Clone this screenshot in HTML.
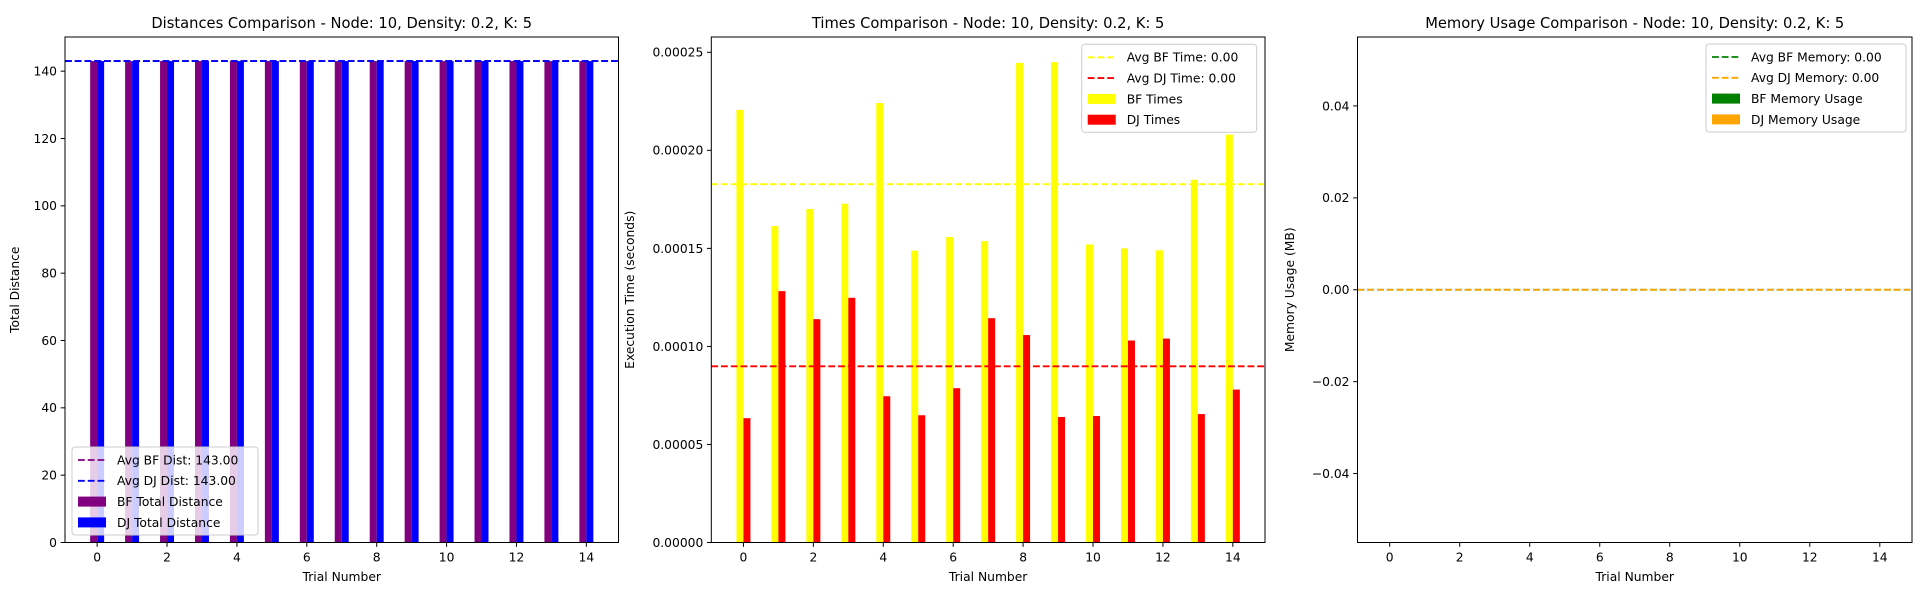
<!DOCTYPE html>
<html><head><meta charset="utf-8"><style>
html,body{margin:0;padding:0;background:#fff;}
svg{display:block;font-family:"DejaVu Sans","Liberation Sans",sans-serif;}
</style></head><body>
<svg id="chart" width="1923" height="600" viewBox="0 0 1923 600" xmlns="http://www.w3.org/2000/svg"></svg>
<script>
const trials = [0,1,2,3,4,5,6,7,8,9,10,11,12,13,14];
const xTicks = [0,2,4,6,8,10,12,14];
const bfDist = [143,143,143,143,143,143,143,143,143,143,143,143,143,143,143];
const djDist = [143,143,143,143,143,143,143,143,143,143,143,143,143,143,143];
const distTicks = [0,20,40,60,80,100,120,140];
const bfTimes = [0.0002206,0.0001614,0.0001701,0.0001728,0.0002241,0.0001488,0.0001558,0.0001537,0.0002446,0.000245,0.000152,0.000150,0.000149,0.000185,0.000208];
const djTimes = [0.0000634,0.0001282,0.0001139,0.0001248,0.0000746,0.0000649,0.0000787,0.0001144,0.0001058,0.000064,0.0000645,0.000103,0.000104,0.0000655,0.000078];
const timeTicks = [0,0.00005,0.0001,0.00015,0.0002,0.00025];
const timeTickLabels = ["0.00000","0.00005","0.00010","0.00015","0.00020","0.00025"];
const bfMem = [0,0,0,0,0,0,0,0,0,0,0,0,0,0,0];
const djMem = [0,0,0,0,0,0,0,0,0,0,0,0,0,0,0];
const memTicks = [-0.04,-0.02,0,0.02,0.04];
const memTickLabels = ["\u22120.04","\u22120.02","0.00","0.02","0.04"];

const NS = "http://www.w3.org/2000/svg";
const svg = document.getElementById('chart');
function el(tag, attrs, parent){
  const e = document.createElementNS(NS, tag);
  for (const k in attrs) e.setAttribute(k, attrs[k]);
  (parent||svg).appendChild(e);
  return e;
}
const TOP = 37, BOT = 542.5;
const mean = a => a.reduce((s,v)=>s+v,0)/a.length;

function panel(o){
  const g = el('g', {});
  
  
  const xmin=-0.92, xmax=14.92;
  const xs = v => o.left + (v - xmin)/(xmax - xmin)*(o.right - o.left);
  const ys = v => BOT - (v - o.ymin)/(o.ymax - o.ymin)*(BOT - TOP);
  const bw = xs(0.2) - xs(0);
  // bars
  trials.forEach((t,i)=>{
    [[o.s1,o.c1,-0.2,'bar-'+o.k1+'-'+t],[o.s2,o.c2,0,'bar-'+o.k2+'-'+t]].forEach(([s,c,off,nm])=>{
      const base = ys(Math.max(0,o.ymin)), top = ys(s[i]);
      const r = el('rect', {x:xs(t+off), y:Math.min(base,top), width:bw, height:Math.abs(base-top), fill:c}, g);
      
      
    });
  });
  // avg lines
  [[mean(o.s1),o.l1c,'avg-'+o.k1+'-line'],[mean(o.s2),o.l2c,'avg-'+o.k2+'-line']].forEach(([m,c,nm])=>{
    const ln = el('line', {x1:o.left, x2:o.right, y1:ys(m), y2:ys(m), stroke:c, 'stroke-width':1.85, 'stroke-dasharray':'6.8 2.95'}, g);
    
    
  });
  // frame
  const fr = el('rect', {x:o.left, y:TOP, width:o.right-o.left, height:BOT-TOP, fill:'none', stroke:'#000', 'stroke-width':1}, g);
  
  
  // x ticks
  xTicks.forEach(t=>{
    el('line', {x1:xs(t), x2:xs(t), y1:BOT, y2:BOT+4.3, stroke:'#000', 'stroke-width':1}, g);
    const tx = el('text', {x:xs(t), y:BOT+19, 'text-anchor':'middle', 'font-size':12.3}, g);
    tx.textContent = t;
    
    
  });
  o.yt.forEach((t,i)=>{
    el('line', {x1:o.left-4.3, x2:o.left, y1:ys(t), y2:ys(t), stroke:'#000', 'stroke-width':1}, g);
    const tx = el('text', {x:o.left-8, y:ys(t)+4.4, 'text-anchor':'end', 'font-size':12.3}, g);
    tx.textContent = o.ytl[i];
    
    
  });
  const cx = (o.left+o.right)/2;
  const ti = el('text', {x:cx, y:28, 'text-anchor':'middle', 'font-size':14.7}, g);
  ti.textContent = o.title;
  
  
  const xl = el('text', {x:cx, y:581, 'text-anchor':'middle', 'font-size':12.3}, g);
  xl.textContent = 'Trial Number';
  
  
  const ym = (TOP+BOT)/2;
  const yl = el('text', {x:o.ylx, y:ym, 'text-anchor':'middle', 'font-size':12.3, transform:'rotate(-90 '+o.ylx+' '+ym+')'}, g);
  yl.textContent = o.ylabel;
  
  
  // legend
  const L = o.leg;
  const lg = el('g', {}, g);
  
  
  el('rect', {x:L.x, y:L.y, width:L.w, height:88, rx:3, fill:'rgba(255,255,255,0.8)', stroke:'#ccc', 'stroke-width':1}, lg);
  L.items.forEach((it,i)=>{
    const yy = L.y + 13 + i*20.8;
    if (it.line) el('line', {x1:L.x+6, x2:L.x+34, y1:yy, y2:yy, stroke:it.c, 'stroke-width':1.85, 'stroke-dasharray':'6.8 2.95'}, lg);
    else el('rect', {x:L.x+6, y:yy-5, width:28, height:10, fill:it.c}, lg);
    const t = el('text', {x:L.x+45, y:yy+4.4, 'font-size':12.3}, lg);
    t.textContent = it.t;
    
    
  });
}

panel({name:'distances-panel', left:65, right:618.5, ymin:0, ymax:150.15, s1:bfDist, s2:djDist, k1:'bf', k2:'dj',
  c1:'#800080', c2:'#0000ff', l1c:'#800080', l2c:'#0000ff', yt:distTicks, ytl:distTicks.map(String),
  title:'Distances Comparison - Node: 10, Density: 0.2, K: 5', ylabel:'Total Distance', ylx:19,
  leg:{x:72, y:447, w:186, items:[{line:1,c:'#800080',t:'Avg BF Dist: 143.00'},{line:1,c:'#0000ff',t:'Avg DJ Dist: 143.00'},{c:'#800080',t:'BF Total Distance'},{c:'#0000ff',t:'DJ Total Distance'}]}});

panel({name:'times-panel', left:711.3, right:1265, ymin:0, ymax:0.0002578, s1:bfTimes, s2:djTimes, k1:'bf', k2:'dj',
  c1:'#ffff00', c2:'#ff0000', l1c:'#ffff00', l2c:'#ff0000', yt:timeTicks, ytl:timeTickLabels,
  title:'Times Comparison - Node: 10, Density: 0.2, K: 5', ylabel:'Execution Time (seconds)', ylx:634,
  leg:{x:1081.7, y:44.3, w:175, items:[{line:1,c:'#ffff00',t:'Avg BF Time: 0.00'},{line:1,c:'#ff0000',t:'Avg DJ Time: 0.00'},{c:'#ffff00',t:'BF Times'},{c:'#ff0000',t:'DJ Times'}]}});

panel({name:'memory-panel', left:1357.5, right:1912, ymin:-0.055, ymax:0.055, s1:bfMem, s2:djMem, k1:'bf', k2:'dj',
  c1:'#008000', c2:'#ffa500', l1c:'#008000', l2c:'#ffa500', yt:memTicks, ytl:memTickLabels,
  title:'Memory Usage Comparison - Node: 10, Density: 0.2, K: 5', ylabel:'Memory Usage (MB)', ylx:1294,
  leg:{x:1706, y:44, w:200, items:[{line:1,c:'#008000',t:'Avg BF Memory: 0.00'},{line:1,c:'#ffa500',t:'Avg DJ Memory: 0.00'},{c:'#008000',t:'BF Memory Usage'},{c:'#ffa500',t:'DJ Memory Usage'}]}});
</script>
</body></html>
